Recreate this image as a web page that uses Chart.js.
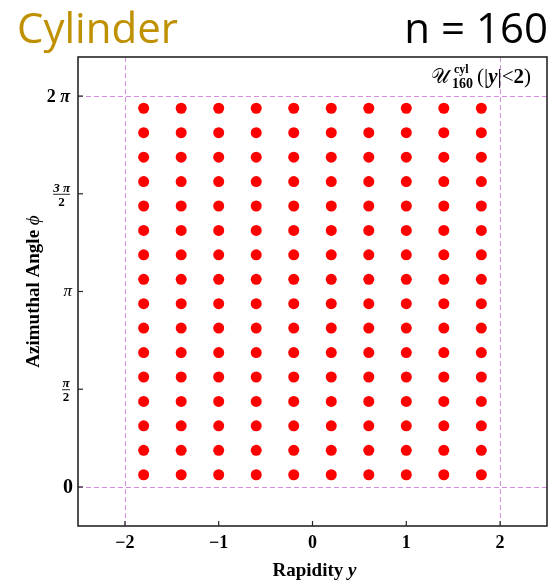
<!DOCTYPE html>
<html>
<head>
<meta charset="utf-8">
<script src="https://cdn.jsdelivr.net/npm/chart.js@4.4.1/dist/chart.umd.min.js"></script>
<style>
    html, body { margin: 0; padding: 0; background: #fff; }
    #wrap { position: relative; width: 554px; height: 585px; overflow: hidden; }
    #plot { position: absolute; left: 0; top: 0; }
    .head { position: absolute; top: 6px; font-family: 'Open Sans', 'Noto Sans', sans-serif; font-size: 42px; line-height: 42px; white-space: nowrap; }
    #ttl { left: 17px; color: #bf9000; }
    #cnt { right: 6px; color: #000; }
</style>
</head>
<body>
<div id="wrap">
    <canvas id="plot" width="554" height="585"></canvas>
    <div class="head" id="ttl">Cylinder</div>
    <div class="head" id="cnt">n = 160</div>
</div>
<script>
// Grid of sampled points: rapidity columns, azimuth rows
const rapidity = [-1.8, -1.4, -1.0, -0.6, -0.2, 0.2, 0.6, 1.0, 1.4, 1.8];
const azimuth = [0.196, 0.589, 0.982, 1.374, 1.767, 2.160, 2.553, 2.945,
                 3.338, 3.731, 4.123, 4.516, 4.909, 5.301, 5.694, 6.087];

// Axes
const xRange = [-2.5, 2.5];
const yRange = [-0.628, 6.911];
const xTicks = [-2, -1, 0, 1, 2];
const yTicks = [0, 1.5708, 3.1416, 4.7124, 6.2832];
const yTickLabels = [
    { whole: '0' },
    { num: 'π', den: '2' },
    { sym: 'π' },
    { num: '3 π', den: '2' },
    { whole: '2', sym: ' π' }
];

// Dashed reference lines
const refX = [-2, 2];
const refY = [0, 6.2832];

const SERIF = "'Liberation Serif', 'DejaVu Serif', serif";
const FRAME = '#262626';
const DASH = '#d48ede';

const points = [];
rapidity.forEach(x => azimuth.forEach(y => points.push({ x, y })));

function fmt(v) {
    return v < 0 ? '\u2212' + Math.abs(v) : String(v);
}

const decorPlugin = {
    id: 'decor',
    beforeDatasetsDraw(chart) {
        const { ctx, chartArea: a, scales: { x, y } } = chart;
        ctx.save();
        ctx.strokeStyle = DASH;
        ctx.lineWidth = 1;
        ctx.setLineDash([5, 3]);
        refX.forEach(v => {
            const px = Math.round(x.getPixelForValue(v)) + 0.5;
            ctx.beginPath(); ctx.moveTo(px, a.top); ctx.lineTo(px, a.bottom); ctx.stroke();
        });
        refY.forEach(v => {
            const py = Math.round(y.getPixelForValue(v)) + 0.5;
            ctx.beginPath(); ctx.moveTo(a.left, py); ctx.lineTo(a.right, py); ctx.stroke();
        });
        ctx.restore();
    },
    afterDraw(chart) {
        const { ctx, chartArea: a, scales: { x, y } } = chart;
        ctx.save();

        // frame
        ctx.strokeStyle = FRAME;
        ctx.lineWidth = 1.6;
        ctx.strokeRect(a.left, a.top, a.right - a.left, a.bottom - a.top);

        // inward tick marks
        ctx.lineWidth = 1.2;
        xTicks.forEach(v => {
            const px = x.getPixelForValue(v);
            ctx.beginPath(); ctx.moveTo(px, a.bottom); ctx.lineTo(px, a.bottom - 5); ctx.stroke();
        });
        yTicks.forEach(v => {
            const py = y.getPixelForValue(v);
            ctx.beginPath(); ctx.moveTo(a.left, py); ctx.lineTo(a.left + 5, py); ctx.stroke();
        });

        // x tick labels
        ctx.fillStyle = '#000';
        ctx.font = 'bold 18px ' + SERIF;
        ctx.textAlign = 'center';
        ctx.textBaseline = 'alphabetic';
        xTicks.forEach(v => {
            ctx.fillText(fmt(v), x.getPixelForValue(v), a.bottom + 22);
        });

        // y tick labels (pi fractions)
        const right = a.left - 8;
        yTicks.forEach((v, i) => {
            const py = y.getPixelForValue(v);
            const lab = yTickLabels[i];
            if (lab.num) {
                ctx.font = 'bold italic 13px ' + SERIF;
                const w = Math.max(ctx.measureText(lab.num).width, 8);
                const cx = right - w / 2;
                ctx.textAlign = 'center';
                ctx.textBaseline = 'alphabetic';
                ctx.fillText(lab.num, cx, py - 2);
                ctx.font = 'bold 13px ' + SERIF;
                ctx.textBaseline = 'top';
                ctx.fillText(lab.den, cx, py + 2);
                ctx.lineWidth = 1;
                ctx.beginPath(); ctx.moveTo(cx - w / 2, py + 0.5); ctx.lineTo(cx + w / 2, py + 0.5); ctx.stroke();
            } else {
                ctx.textBaseline = 'middle';
                ctx.textAlign = 'right';
                if (lab.whole && !lab.sym) {
                    ctx.font = 'bold 20px ' + SERIF;
                    ctx.fillText(lab.whole, right + 3, py + 1);
                } else if (lab.whole) {
                    ctx.font = 'bold italic 18px ' + SERIF;
                    const sw = ctx.measureText(lab.sym).width;
                    ctx.fillText(lab.sym, right, py + 1);
                    ctx.font = 'bold 18px ' + SERIF;
                    ctx.fillText(lab.whole, right - sw, py + 1);
                } else {
                    ctx.font = 'italic 17px ' + SERIF;
                    ctx.fillText(lab.sym, right + 2, py);
                }
            }
        });

        // axis titles
        ctx.textBaseline = 'alphabetic';
        ctx.textAlign = 'left';
        const drawMixed = (parts, cx, by) => {
            let total = 0;
            parts.forEach(p => { ctx.font = p[1] + ' 19px ' + SERIF; total += ctx.measureText(p[0]).width; });
            let px = cx - total / 2;
            parts.forEach(p => {
                ctx.font = p[1] + ' 19px ' + SERIF;
                ctx.fillText(p[0], px, by);
                px += ctx.measureText(p[0]).width;
            });
        };
        drawMixed([['Rapidity ', 'bold'], ['y', 'bold italic']], (a.left + a.right) / 2 + 2, a.bottom + 50);
        ctx.save();
        ctx.translate(39, (a.top + a.bottom) / 2);
        ctx.rotate(-Math.PI / 2);
        drawMixed([['Azimuthal Angle ', 'bold'], ['\u03d5', 'italic']], 0, 0);
        ctx.restore();

        // annotation label U_160^cyl(|y|<2)
        const ab = a.top + 26;
        ctx.font = '20px ' + SERIF;
        ctx.fillText('\ud835\udcb0', 431, ab);
        ctx.font = 'bold 12px ' + SERIF;
        ctx.fillText('cyl', 454, ab - 10);
        ctx.font = 'bold 14px ' + SERIF;
        ctx.fillText('160', 452, ab + 5);
        let ax = 477;
        const seg = (t, f) => {
            ctx.font = f + ' 21px ' + SERIF;
            ctx.fillText(t, ax, ab);
            ax += ctx.measureText(t).width;
        };
        seg('(|', 'normal');
        seg('y', 'bold italic');
        seg('|<', 'normal');
        seg('2', 'bold');
        seg(')', 'normal');

        ctx.restore();
    }
};

new Chart(document.getElementById('plot').getContext('2d'), {
    type: 'scatter',
    data: {
        datasets: [{
            data: points,
            backgroundColor: '#ff0000',
            borderWidth: 0,
            pointRadius: 5.5,
            pointHoverRadius: 5.5
        }]
    },
    options: {
        responsive: false,
        animation: false,
        devicePixelRatio: 1,
        layout: { padding: { left: 78, top: 57, right: 7, bottom: 59 } },
        scales: {
            x: { type: 'linear', min: xRange[0], max: xRange[1], display: false },
            y: { type: 'linear', min: yRange[0], max: yRange[1], display: false }
        },
        plugins: { legend: { display: false }, tooltip: { enabled: false } }
    },
    plugins: [decorPlugin]
});
</script>
</body>
</html>
